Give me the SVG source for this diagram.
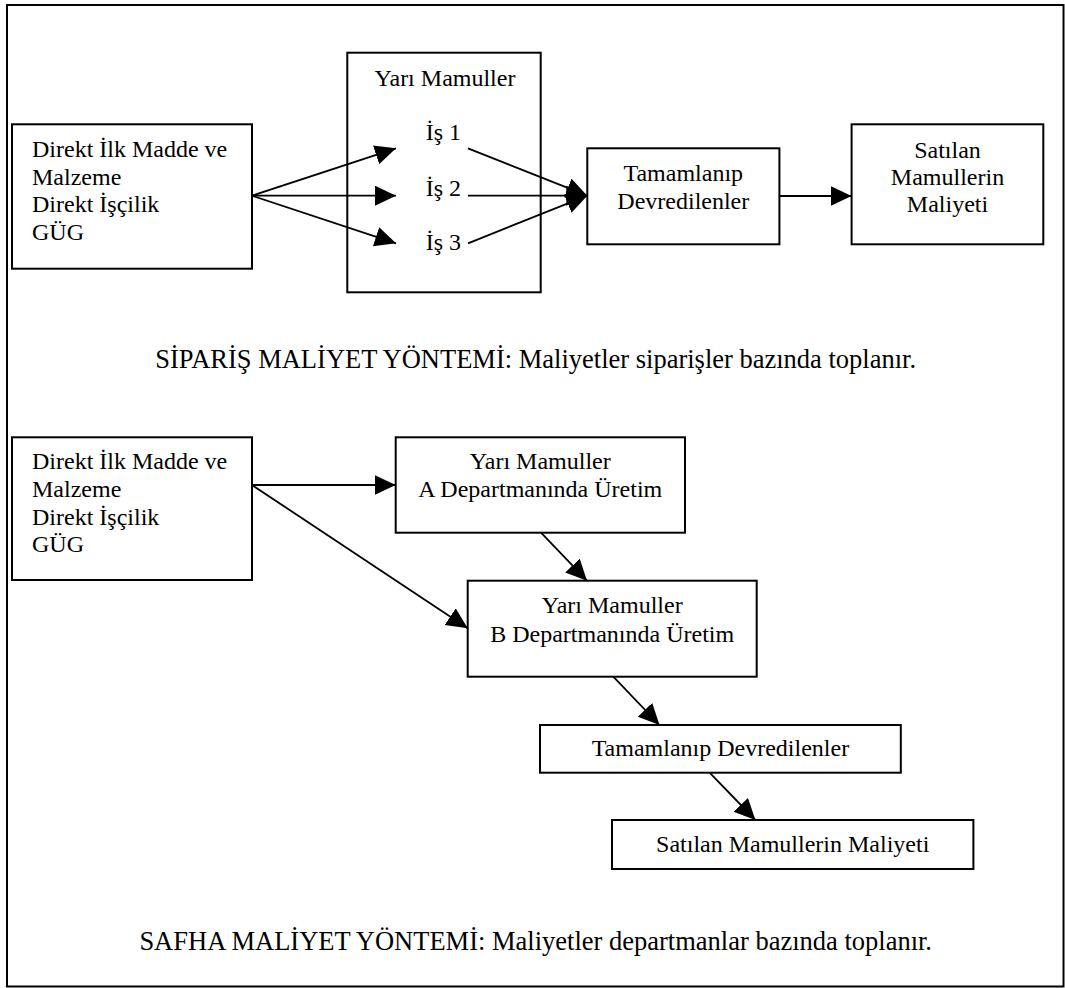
<svg xmlns="http://www.w3.org/2000/svg" width="1065" height="988" viewBox="0 0 1065 988">
<style>
  .box { fill: #fff; stroke: #000; stroke-width: 2; }
  .frame { fill: #fff; stroke: #000; stroke-width: 2; }
  .t { font-family: "Liberation Serif", "Times New Roman", serif; font-size: 24px; fill: #000; }
  .cap { font-family: "Liberation Serif", "Times New Roman", serif; font-size: 26.5px; fill: #000; text-anchor: middle; }
  .c { text-anchor: middle; }
  .conn line { stroke: #000; stroke-width: 1.8; marker-end: url(#arr); }
</style>
<defs>
  <marker id="arr" markerUnits="userSpaceOnUse" markerWidth="22" markerHeight="22" refX="21" refY="10" orient="auto" viewBox="0 0 22 22">
    <path d="M0,0 L21,10 L0,20 Z" fill="#000"/>
  </marker>
</defs>
<rect class="frame" x="7" y="5" width="1056.5" height="981.5"/>

<g id="top-inputs">
  <rect class="box" x="12" y="124.3" width="240" height="144.4"/>
  <text class="t" x="32" y="157">Direkt İlk Madde ve</text>
  <text class="t" x="32" y="184.5">Malzeme</text>
  <text class="t" x="32" y="212">Direkt İşçilik</text>
  <text class="t" x="32" y="239.5">GÜG</text>
</g>
<g id="top-yari-mamuller">
  <rect class="box" x="347.3" y="52.7" width="193.4" height="239.6"/>
  <text class="t c" x="445" y="85.7">Yarı Mamuller</text>
  <text class="t" x="425.7" y="140">İş 1</text>
  <text class="t" x="425.7" y="195.5">İş 2</text>
  <text class="t" x="425.7" y="250">İş 3</text>
</g>
<g id="top-tamamlanip">
  <rect class="box" x="587.3" y="148.3" width="192.1" height="96"/>
  <text class="t c" x="683.3" y="181">Tamamlanıp</text>
  <text class="t c" x="683.3" y="209">Devredilenler</text>
</g>
<g id="top-satilan">
  <rect class="box" x="851.6" y="124.3" width="191.7" height="120"/>
  <text class="t c" x="947.5" y="157.5">Satılan</text>
  <text class="t c" x="947.5" y="185">Mamullerin</text>
  <text class="t c" x="947.5" y="212">Maliyeti</text>
</g>
<g id="caption-top">
  <text class="cap" x="535.7" y="368">SİPARİŞ MALİYET YÖNTEMİ: Maliyetler siparişler bazında toplanır.</text>
</g>

<g id="bottom-inputs">
  <rect class="box" x="12" y="437.3" width="240" height="142.7"/>
  <text class="t" x="32" y="469">Direkt İlk Madde ve</text>
  <text class="t" x="32" y="496.5">Malzeme</text>
  <text class="t" x="32" y="524.5">Direkt İşçilik</text>
  <text class="t" x="32" y="552">GÜG</text>
</g>
<g id="bottom-dept-a">
  <rect class="box" x="395.7" y="437.3" width="289.3" height="95.4"/>
  <text class="t c" x="540.3" y="469.3">Yarı Mamuller</text>
  <text class="t c" x="540.3" y="496.7">A Departmanında Üretim</text>
</g>
<g id="bottom-dept-b">
  <rect class="box" x="467.7" y="580.7" width="289" height="96"/>
  <text class="t c" x="612.2" y="613.3">Yarı Mamuller</text>
  <text class="t c" x="612.2" y="641.7">B Departmanında Üretim</text>
</g>
<g id="bottom-tamamlanip">
  <rect class="box" x="540" y="725" width="360.8" height="47.7"/>
  <text class="t c" x="720.4" y="756">Tamamlanıp Devredilenler</text>
</g>
<g id="bottom-satilan">
  <rect class="box" x="612" y="820" width="361.4" height="49"/>
  <text class="t c" x="792.7" y="852.3">Satılan Mamullerin Maliyeti</text>
</g>
<g id="caption-bottom">
  <text class="cap" x="535.7" y="950">SAFHA MALİYET YÖNTEMİ: Maliyetler departmanlar bazında toplanır.</text>
</g>

<g id="connectors" class="conn">
  <line x1="252" y1="195.7" x2="396" y2="148.3"/>
  <line x1="252" y1="195.7" x2="396" y2="195.7"/>
  <line x1="252" y1="195.7" x2="396" y2="243.3"/>
  <line x1="468" y1="148.3" x2="587.3" y2="195.7"/>
  <line x1="468" y1="195.7" x2="587.3" y2="195.7"/>
  <line x1="468" y1="243.3" x2="587.3" y2="195.7"/>
  <line x1="779.4" y1="196" x2="851.6" y2="196"/>
  <line x1="252" y1="485" x2="395.7" y2="485"/>
  <line x1="252" y1="485" x2="467.7" y2="628.3"/>
  <line x1="541" y1="532.7" x2="587" y2="580.7"/>
  <line x1="613.3" y1="676.7" x2="659.5" y2="725"/>
  <line x1="709.6" y1="772.7" x2="755.4" y2="820"/>
</g>
</svg>
